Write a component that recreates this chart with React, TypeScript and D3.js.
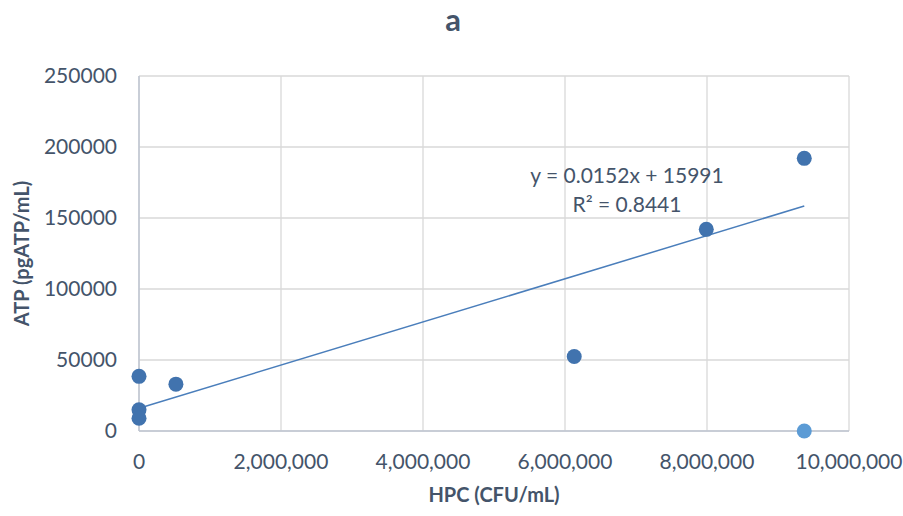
import React from "react";
import * as d3 from "d3";

const hpc = [0, 0, 0, 520000, 6130000, 7990000, 9370000];
const atp = [38500, 15000, 9000, 33000, 52500, 142000, 192000];
const outlierX = [9370000];
const outlierY = [0];
const xTicks = [0, 2000000, 4000000, 6000000, 8000000, 10000000];
const yTicks = [0, 50000, 100000, 150000, 200000, 250000];
const slope = 0.0152;
const intercept = 15991;

const App = () => {
  const width = 903;
  const height = 516;
  const margins = { top: 76, right: 54, bottom: 85, left: 139 };

  const xScale = d3
    .scaleLinear()
    .domain([0, 10000000])
    .range([margins.left, width - margins.right]);
  const yScale = d3
    .scaleLinear()
    .domain([0, 250000])
    .range([height - margins.bottom, margins.top]);

  const fmt = d3.format(",");
  const font = "Lato, 'Open Sans', sans-serif";
  const fs = 21;
  const allX = hpc.concat(outlierX);
  const xMin = d3.min(allX);
  const xMax = d3.max(allX);

  return (
    <svg
      width={width}
      height={height}
      style={{ position: "absolute", left: 0, top: 0, background: "#fff" }}
    >
      <text
        x={453}
        y={31}
        textAnchor="middle"
        fontFamily={font}
        fontWeight="bold"
        fontSize={31}
        fill="#44546A"
      >
        a
      </text>
      {/* grid */}
      {yTicks.map((t) => (
        <line
          key={"gy" + t}
          x1={xScale(0)}
          x2={xScale(10000000)}
          y1={yScale(t)}
          y2={yScale(t)}
          stroke="#D9D9D9"
          strokeWidth="1.3"
        />
      ))}
      {xTicks.map((t) => (
        <line
          key={"gx" + t}
          x1={xScale(t)}
          x2={xScale(t)}
          y1={yScale(0)}
          y2={yScale(250000)}
          stroke="#D9D9D9"
          strokeWidth="1.3"
        />
      ))}
      {/* axes */}
      <line
        x1={xScale(0)}
        x2={xScale(10000000)}
        y1={yScale(0)}
        y2={yScale(0)}
        stroke="#BFC6D2"
        strokeWidth="1.5"
      />
      <line
        x1={xScale(0)}
        x2={xScale(0)}
        y1={yScale(0)}
        y2={yScale(250000)}
        stroke="#BFC6D2"
        strokeWidth="1.5"
      />
      {yTicks.map((t) => (
        <text
          key={"ty" + t}
          x={xScale(0) - 22}
          y={yScale(t)}
          dy="0.35em"
          textAnchor="end"
          fontFamily={font}
          fontSize={fs}
          fill="#44546A"
        >
          {t}
        </text>
      ))}
      {xTicks.map((t) => (
        <text
          key={"tx" + t}
          x={xScale(t)}
          y={yScale(0) + 38}
          textAnchor="middle"
          fontFamily={font}
          fontSize={fs}
          fill="#44546A"
        >
          {fmt(t)}
        </text>
      ))}
      <text
        x={(xScale(0) + xScale(10000000)) / 2}
        y={502}
        textAnchor="middle"
        fontFamily={font}
        fontWeight="bold"
        fontSize={20}
        fill="#44546A"
      >
        HPC (CFU/mL)
      </text>
      <text
        transform={`translate(29, ${(yScale(0) + yScale(250000)) / 2}) rotate(-90)`}
        textAnchor="middle"
        fontFamily={font}
        fontWeight="bold"
        fontSize={20}
        fill="#44546A"
      >
        ATP (pgATP/mL)
      </text>
      {/* trendline */}
      <line
        x1={xScale(xMin)}
        y1={yScale(slope * xMin + intercept)}
        x2={xScale(xMax)}
        y2={yScale(slope * xMax + intercept)}
        stroke="#4A7EBB"
        strokeWidth="1.5"
      />
      {hpc.map((x, i) => (
        <circle
          key={"p" + i}
          cx={xScale(x)}
          cy={yScale(atp[i])}
          r={7.5}
          fill="#4173AE"
        />
      ))}
      {outlierX.map((x, i) => (
        <circle
          key={"o" + i}
          cx={xScale(x)}
          cy={yScale(outlierY[i])}
          r={7.5}
          fill="#5B9BD5"
        />
      ))}
      <text
        x={627}
        y={183}
        textAnchor="middle"
        fontFamily={font}
        fontSize={fs}
        fill="#44546A"
      >
        y = 0.0152x + 15991
      </text>
      <text
        x={627}
        y={212}
        textAnchor="middle"
        fontFamily={font}
        fontSize={fs}
        fill="#44546A"
      >
        R² = 0.8441
      </text>
    </svg>
  );
};

export default App;
